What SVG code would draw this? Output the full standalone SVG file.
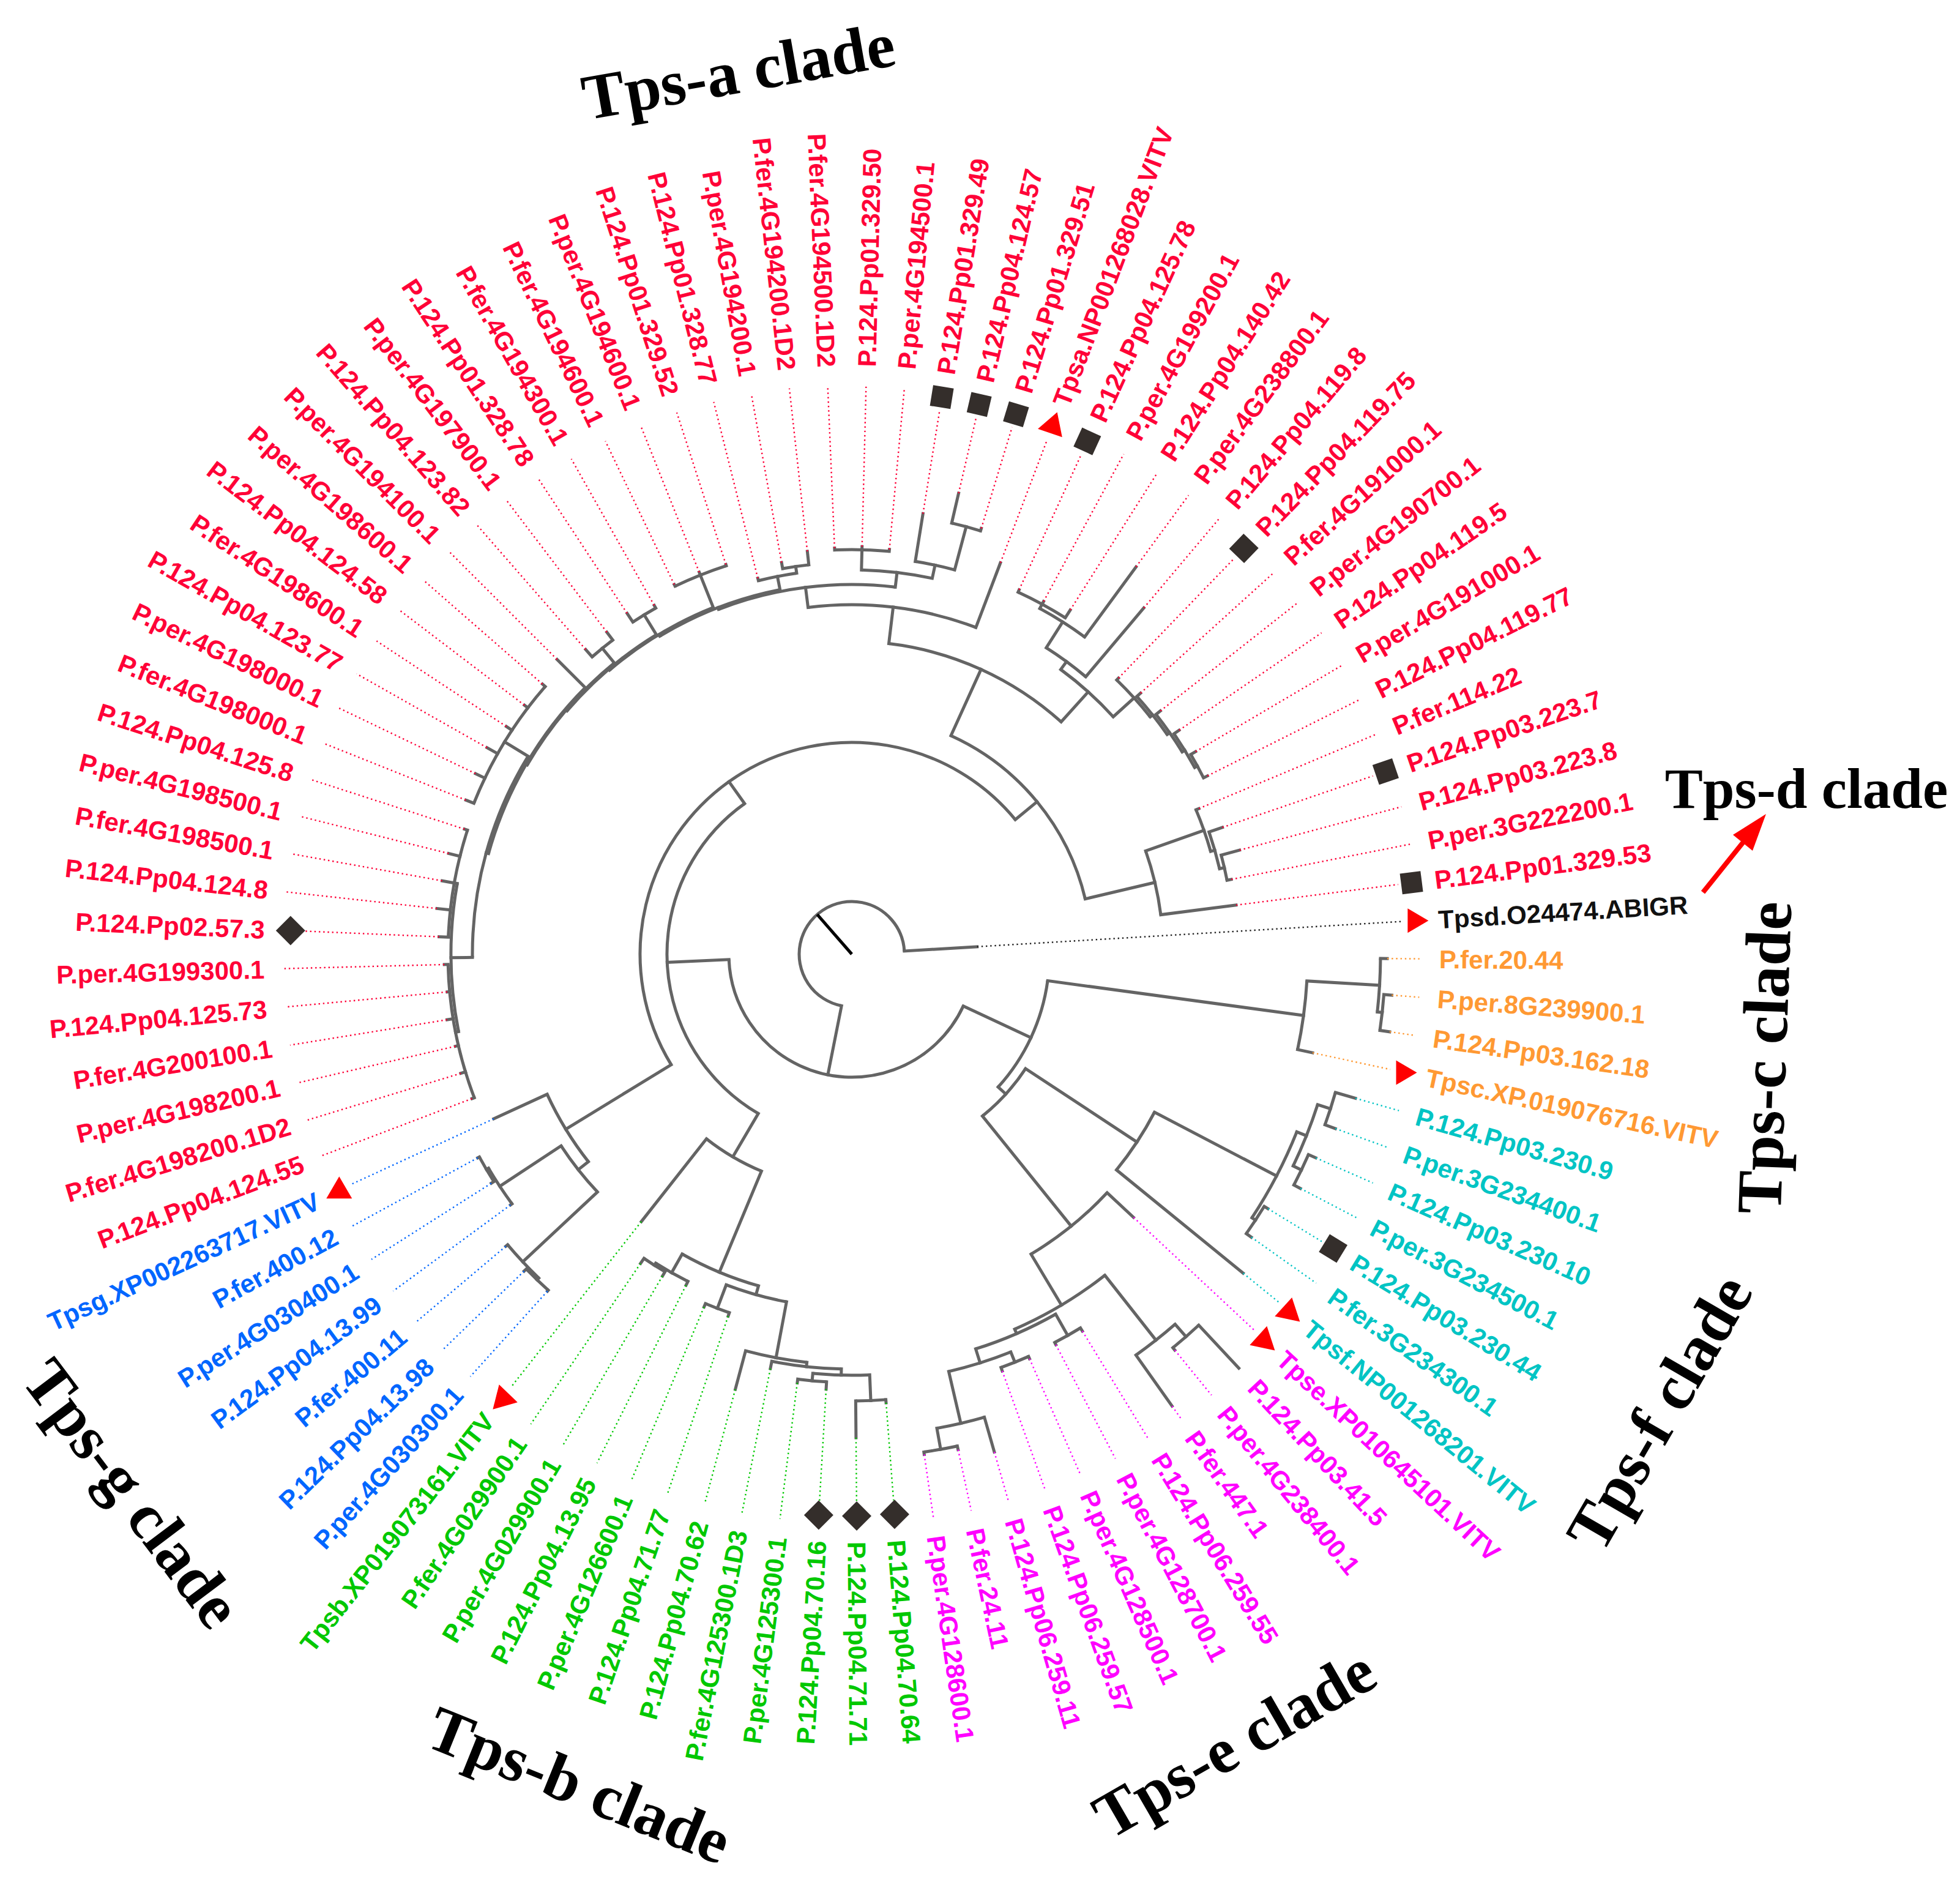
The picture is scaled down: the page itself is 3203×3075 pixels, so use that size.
<svg xmlns="http://www.w3.org/2000/svg" width="3203" height="3075" viewBox="0 0 3203 3075">
<style>
.br line{stroke:#646464;stroke-width:5;stroke-linecap:square}
.br circle{fill:none;stroke:#646464;stroke-width:5}
.ld line{stroke-width:2.4;stroke-dasharray:2.4 4.8}
.lb{font-family:"Liberation Sans",Arial,sans-serif;font-size:42px;font-weight:bold}
.e{text-anchor:end}
.co{fill:#ff9933}.cc{fill:#00c4c4}.cm{fill:#ff00ff}.cg{fill:#00c800}.cb{fill:#0066ff}.cr{fill:#ff0037}.ck{fill:#111}
.sq{fill:#342e2b}.tri{fill:#ff0000}
.cl{font-family:"Liberation Serif","Times New Roman",serif;font-weight:bold;font-size:105px;fill:#000;text-anchor:middle}
</style>
<rect width="3203" height="3075" fill="#fff"/>
<g transform="translate(1392 1559)">
<g id="connectors">
<g id="tree" class="br">
<circle r="86" transform="rotate(101.23)" stroke-dasharray="383.3 9999"/>
<circle r="201" transform="rotate(24.98)" stroke-dasharray="535 9999"/>
<circle r="323" transform="rotate(7.73)" stroke-dasharray="194.5 9999"/>
<circle r="745" transform="rotate(3.37)" stroke-dasharray="113.3 9999"/>
<circle r="864" transform="rotate(0.47)" stroke-dasharray="87.5 9999"/>
<circle r="872" transform="rotate(4.34)" stroke-dasharray="58.9 9999"/>
<circle r="340" transform="rotate(33.37)" stroke-dasharray="105.2 9999"/>
<circle r="558" transform="rotate(27.57)" stroke-dasharray="113.1 9999"/>
<circle r="783" transform="rotate(21.765)" stroke-dasharray="158.8 9999"/>
<circle r="800" transform="rotate(17.895)" stroke-dasharray="108.1 9999"/>
<circle r="822" transform="rotate(15.96)" stroke-dasharray="55.5 9999"/>
<circle r="815" transform="rotate(23.7)" stroke-dasharray="55 9999"/>
<circle r="790" transform="rotate(31.44)" stroke-dasharray="53.4 9999"/>
<circle r="571" transform="rotate(43.05)" stroke-dasharray="160.3 9999"/>
<circle r="668" transform="rotate(51.76)" stroke-dasharray="172.1 9999"/>
<circle r="803" transform="rotate(48.855)" stroke-dasharray="81.5 9999"/>
<circle r="830" transform="rotate(46.92)" stroke-dasharray="56.1 9999"/>
<circle r="676" transform="rotate(60.475)" stroke-dasharray="142.7 9999"/>
<circle r="716" transform="rotate(58.54)" stroke-dasharray="48.4 9999"/>
<circle r="700" transform="rotate(68.215)" stroke-dasharray="106.4 9999"/>
<circle r="718" transform="rotate(66.28)" stroke-dasharray="48.5 9999"/>
<circle r="787" transform="rotate(74.02)" stroke-dasharray="79.7 9999"/>
<circle r="822" transform="rotate(77.89)" stroke-dasharray="55.5 9999"/>
<circle r="302" transform="rotate(120.41)" stroke-dasharray="601.6 9999"/>
<circle r="384" transform="rotate(112.61)" stroke-dasharray="104.6 9999"/>
<circle r="563" transform="rotate(105.715)" stroke-dasharray="135.4 9999"/>
<circle r="598" transform="rotate(116.6)" stroke-dasharray="60.6 9999"/>
<circle r="602" transform="rotate(120.47)" stroke-dasharray="40.7 9999"/>
<circle r="578" transform="rotate(100.635)" stroke-dasharray="102.4 9999"/>
<circle r="619" transform="rotate(108.86)" stroke-dasharray="41.8 9999"/>
<circle r="671" transform="rotate(96.28)" stroke-dasharray="102 9999"/>
<circle r="678" transform="rotate(91.44)" stroke-dasharray="114.5 9999"/>
<circle r="688" transform="rotate(87.565)" stroke-dasharray="93.1 9999"/>
<circle r="730" transform="rotate(85.63)" stroke-dasharray="49.3 9999"/>
<circle r="700" transform="rotate(93.38)" stroke-dasharray="47.3 9999"/>
<circle r="346" transform="rotate(148.54)" stroke-dasharray="1038.8 9999"/>
<circle r="548" transform="rotate(141.77)" stroke-dasharray="129.5 9999"/>
<circle r="569" transform="rotate(136.93)" stroke-dasharray="96 9999"/>
<circle r="736" transform="rotate(134.025)" stroke-dasharray="74.6 9999"/>
<circle r="740" transform="rotate(132.09)" stroke-dasharray="50 9999"/>
<circle r="689" transform="rotate(143.7)" stroke-dasharray="69.8 9999"/>
<circle r="693" transform="rotate(147.57)" stroke-dasharray="46.8 9999"/>
<circle r="392" transform="rotate(294.41)" stroke-dasharray="357.7 9999"/>
<circle r="509" transform="rotate(340.64)" stroke-dasharray="107.4 9999"/>
<circle r="610" transform="rotate(337.25)" stroke-dasharray="72.1 9999"/>
<circle r="617" transform="rotate(341.12)" stroke-dasharray="62.5 9999"/>
<circle r="625" transform="rotate(344.99)" stroke-dasharray="42.2 9999"/>
<circle r="511" transform="rotate(276.8)" stroke-dasharray="314.2 9999"/>
<circle r="571" transform="rotate(262.81)" stroke-dasharray="278.9 9999"/>
<circle r="604" transform="rotate(248.865)" stroke-dasharray="294.1 9999"/>
<circle r="607" transform="rotate(238.87)" stroke-dasharray="211.8 9999"/>
<circle r="610" transform="rotate(229.52)" stroke-dasharray="199 9999"/>
<circle r="612" transform="rotate(220.51)" stroke-dasharray="192.5 9999"/>
<circle r="614" transform="rotate(210.23)" stroke-dasharray="220.4 9999"/>
<circle r="616" transform="rotate(195.47)" stroke-dasharray="317.4 9999"/>
<circle r="620" transform="rotate(179.505)" stroke-dasharray="345.6 9999"/>
<circle r="655" transform="rotate(168.86)" stroke-dasharray="243.4 9999"/>
<circle r="660" transform="rotate(159.18)" stroke-dasharray="223 9999"/>
<circle r="660" transform="rotate(182.41)" stroke-dasharray="178.3 9999"/>
<circle r="665" transform="rotate(201.76)" stroke-dasharray="224.7 9999"/>
<circle r="629" transform="rotate(255.96)" stroke-dasharray="63.7 9999"/>
<circle r="640" transform="rotate(259.83)" stroke-dasharray="43.2 9999"/>
<circle r="628" transform="rotate(271.44)" stroke-dasharray="116.6 9999"/>
<circle r="661" transform="rotate(267.57)" stroke-dasharray="89.3 9999"/>
<circle r="650" transform="rotate(279.18)" stroke-dasharray="65.9 9999"/>
<circle r="723" transform="rotate(283.05)" stroke-dasharray="48.8 9999"/>
<circle r="667" transform="rotate(244.34)" stroke-dasharray="90.2 9999"/>
<circle r="650" transform="rotate(236.6)" stroke-dasharray="43.9 9999"/>
<circle r="645" transform="rotate(228.86)" stroke-dasharray="43.6 9999"/>
<circle r="577" transform="rotate(306.28)" stroke-dasharray="115.7 9999"/>
<circle r="593" transform="rotate(302.41)" stroke-dasharray="80.1 9999"/>
<circle r="643" transform="rotate(298.54)" stroke-dasharray="86.9 9999"/>
<circle r="651" transform="rotate(294.67)" stroke-dasharray="87.9 9999"/>
<circle r="623" transform="rotate(314.02)" stroke-dasharray="81.6 9999"/>
<circle r="628" transform="rotate(317.89)" stroke-dasharray="79.6 9999"/>
<circle r="633" transform="rotate(321.76)" stroke-dasharray="74.8 9999"/>
<circle r="638" transform="rotate(325.63)" stroke-dasharray="64.7 9999"/>
<circle r="643" transform="rotate(329.5)" stroke-dasharray="43.5 9999"/>
<line x1="86" x2="201" transform="rotate(101.23)"/>
<line x1="86" x2="205" transform="rotate(356.6)"/>
<line x1="201" x2="323" transform="rotate(24.98)"/>
<line x1="201" x2="302" transform="rotate(177.475)"/>
<line x1="323" x2="745" transform="rotate(7.73)"/>
<line x1="323" x2="340" transform="rotate(42.24)"/>
<line x1="745" x2="864" transform="rotate(3.37)"/>
<line x1="745" x2="770" transform="rotate(12.08)"/>
<line x1="864" x2="875" transform="rotate(0.47)"/>
<line x1="864" x2="872" transform="rotate(6.275)"/>
<line x1="872" x2="885" transform="rotate(4.34)"/>
<line x1="872" x2="888" transform="rotate(8.21)"/>
<line x1="340" x2="558" transform="rotate(33.37)"/>
<line x1="340" x2="571" transform="rotate(51.1)"/>
<line x1="558" x2="783" transform="rotate(27.57)"/>
<line x1="558" x2="825" transform="rotate(39.18)"/>
<line x1="783" x2="800" transform="rotate(21.765)"/>
<line x1="783" x2="790" transform="rotate(33.375)"/>
<line x1="800" x2="822" transform="rotate(17.895)"/>
<line x1="800" x2="815" transform="rotate(25.635)"/>
<line x1="822" x2="856" transform="rotate(15.96)"/>
<line x1="822" x2="840" transform="rotate(19.83)"/>
<line x1="815" x2="828" transform="rotate(23.7)"/>
<line x1="815" x2="827" transform="rotate(27.57)"/>
<line x1="790" x2="797" transform="rotate(31.44)"/>
<line x1="790" x2="800" transform="rotate(35.31)"/>
<line x1="571" x2="630" transform="rotate(43.05)"/>
<line x1="571" x2="668" transform="rotate(59.14)"/>
<line x1="668" x2="803" transform="rotate(51.76)"/>
<line x1="668" x2="676" transform="rotate(66.52)"/>
<line x1="803" x2="830" transform="rotate(48.855)"/>
<line x1="803" x2="905" transform="rotate(54.67)"/>
<line x1="830" x2="926" transform="rotate(46.92)"/>
<line x1="830" x2="835" transform="rotate(50.79)"/>
<line x1="676" x2="716" transform="rotate(60.475)"/>
<line x1="676" x2="700" transform="rotate(72.57)"/>
<line x1="716" x2="722" transform="rotate(58.54)"/>
<line x1="716" x2="720" transform="rotate(62.41)"/>
<line x1="700" x2="718" transform="rotate(68.215)"/>
<line x1="700" x2="787" transform="rotate(76.92)"/>
<line x1="718" x2="722" transform="rotate(66.28)"/>
<line x1="718" x2="724" transform="rotate(70.15)"/>
<line x1="787" x2="846" transform="rotate(74.02)"/>
<line x1="787" x2="822" transform="rotate(79.825)"/>
<line x1="822" x2="828" transform="rotate(77.89)"/>
<line x1="822" x2="826" transform="rotate(81.76)"/>
<line x1="302" x2="384" transform="rotate(120.41)"/>
<line x1="302" x2="346" transform="rotate(234.54)"/>
<line x1="384" x2="563" transform="rotate(112.61)"/>
<line x1="384" x2="556" transform="rotate(128.21)"/>
<line x1="563" x2="578" transform="rotate(105.715)"/>
<line x1="563" x2="598" transform="rotate(119.5)"/>
<line x1="598" x2="605" transform="rotate(116.6)"/>
<line x1="598" x2="602" transform="rotate(122.405)"/>
<line x1="602" x2="610" transform="rotate(120.47)"/>
<line x1="602" x2="612" transform="rotate(124.34)"/>
<line x1="578" x2="671" transform="rotate(100.635)"/>
<line x1="578" x2="619" transform="rotate(110.795)"/>
<line x1="619" x2="625" transform="rotate(108.86)"/>
<line x1="619" x2="625" transform="rotate(112.73)"/>
<line x1="671" x2="678" transform="rotate(96.28)"/>
<line x1="671" x2="736" transform="rotate(104.99)"/>
<line x1="678" x2="688" transform="rotate(91.44)"/>
<line x1="678" x2="690" transform="rotate(101.12)"/>
<line x1="688" x2="730" transform="rotate(87.565)"/>
<line x1="688" x2="700" transform="rotate(95.315)"/>
<line x1="730" x2="735" transform="rotate(85.63)"/>
<line x1="730" x2="790" transform="rotate(89.5)"/>
<line x1="700" x2="712" transform="rotate(93.38)"/>
<line x1="700" x2="706" transform="rotate(97.25)"/>
<line x1="346" x2="548" transform="rotate(148.54)"/>
<line x1="346" x2="392" transform="rotate(320.55)"/>
<line x1="548" x2="569" transform="rotate(141.77)"/>
<line x1="548" x2="644" transform="rotate(155.31)"/>
<line x1="569" x2="736" transform="rotate(136.93)"/>
<line x1="569" x2="689" transform="rotate(146.6)"/>
<line x1="736" x2="740" transform="rotate(134.025)"/>
<line x1="736" x2="740" transform="rotate(139.83)"/>
<line x1="740" x2="742" transform="rotate(132.09)"/>
<line x1="740" x2="745" transform="rotate(135.96)"/>
<line x1="689" x2="692" transform="rotate(143.7)"/>
<line x1="689" x2="693" transform="rotate(149.505)"/>
<line x1="693" x2="698" transform="rotate(147.57)"/>
<line x1="693" x2="696" transform="rotate(151.44)"/>
<line x1="392" x2="511" transform="rotate(294.41)"/>
<line x1="392" x2="509" transform="rotate(346.69)"/>
<line x1="509" x2="610" transform="rotate(340.64)"/>
<line x1="509" x2="633" transform="rotate(352.73)"/>
<line x1="610" x2="615" transform="rotate(337.25)"/>
<line x1="610" x2="617" transform="rotate(344.02)"/>
<line x1="617" x2="640" transform="rotate(341.12)"/>
<line x1="617" x2="625" transform="rotate(346.925)"/>
<line x1="625" x2="656" transform="rotate(344.99)"/>
<line x1="625" x2="632" transform="rotate(348.86)"/>
<line x1="511" x2="571" transform="rotate(276.8)"/>
<line x1="511" x2="577" transform="rotate(312.03)"/>
<line x1="571" x2="604" transform="rotate(262.81)"/>
<line x1="571" x2="684" transform="rotate(290.8)"/>
<line x1="604" x2="607" transform="rotate(248.865)"/>
<line x1="604" x2="628" transform="rotate(276.76)"/>
<line x1="607" x2="610" transform="rotate(238.87)"/>
<line x1="607" x2="629" transform="rotate(258.86)"/>
<line x1="610" x2="612" transform="rotate(229.52)"/>
<line x1="610" x2="667" transform="rotate(248.215)"/>
<line x1="612" x2="614" transform="rotate(220.51)"/>
<line x1="612" x2="650" transform="rotate(238.535)"/>
<line x1="614" x2="616" transform="rotate(210.23)"/>
<line x1="614" x2="645" transform="rotate(230.795)"/>
<line x1="616" x2="620" transform="rotate(195.47)"/>
<line x1="616" x2="681" transform="rotate(224.99)"/>
<line x1="620" x2="655" transform="rotate(179.505)"/>
<line x1="620" x2="665" transform="rotate(211.44)"/>
<line x1="655" x2="660" transform="rotate(168.86)"/>
<line x1="655" x2="660" transform="rotate(190.15)"/>
<line x1="660" x2="664" transform="rotate(159.18)"/>
<line x1="660" x2="668" transform="rotate(163.05)"/>
<line x1="660" x2="665" transform="rotate(166.92)"/>
<line x1="660" x2="670" transform="rotate(170.8)"/>
<line x1="660" x2="664" transform="rotate(174.67)"/>
<line x1="660" x2="666" transform="rotate(178.54)"/>
<line x1="660" x2="675" transform="rotate(182.41)"/>
<line x1="660" x2="682" transform="rotate(186.28)"/>
<line x1="660" x2="680" transform="rotate(190.15)"/>
<line x1="660" x2="679" transform="rotate(194.02)"/>
<line x1="660" x2="665" transform="rotate(197.89)"/>
<line x1="665" x2="679" transform="rotate(201.76)"/>
<line x1="665" x2="682" transform="rotate(205.63)"/>
<line x1="665" x2="685" transform="rotate(209.51)"/>
<line x1="665" x2="676" transform="rotate(213.38)"/>
<line x1="665" x2="672" transform="rotate(217.25)"/>
<line x1="665" x2="671" transform="rotate(221.12)"/>
<line x1="645" x2="661" transform="rotate(228.86)"/>
<line x1="645" x2="661" transform="rotate(232.73)"/>
<line x1="650" x2="667" transform="rotate(236.6)"/>
<line x1="650" x2="655" transform="rotate(240.47)"/>
<line x1="667" x2="670" transform="rotate(244.34)"/>
<line x1="667" x2="672" transform="rotate(248.22)"/>
<line x1="667" x2="669" transform="rotate(252.09)"/>
<line x1="629" x2="633" transform="rotate(255.96)"/>
<line x1="629" x2="640" transform="rotate(261.765)"/>
<line x1="640" x2="650" transform="rotate(259.83)"/>
<line x1="640" x2="662" transform="rotate(263.7)"/>
<line x1="628" x2="661" transform="rotate(271.44)"/>
<line x1="628" x2="650" transform="rotate(282.08)"/>
<line x1="661" x2="664" transform="rotate(267.57)"/>
<line x1="661" x2="666" transform="rotate(271.44)"/>
<line x1="661" x2="664" transform="rotate(275.31)"/>
<line x1="650" x2="729" transform="rotate(279.18)"/>
<line x1="650" x2="723" transform="rotate(284.985)"/>
<line x1="723" x2="773" transform="rotate(283.05)"/>
<line x1="723" x2="727" transform="rotate(286.92)"/>
<line x1="577" x2="593" transform="rotate(306.28)"/>
<line x1="577" x2="623" transform="rotate(317.77)"/>
<line x1="593" x2="643" transform="rotate(302.41)"/>
<line x1="593" x2="740" transform="rotate(310.15)"/>
<line x1="643" x2="651" transform="rotate(298.54)"/>
<line x1="643" x2="785" transform="rotate(306.28)"/>
<line x1="651" x2="655" transform="rotate(294.67)"/>
<line x1="651" x2="656" transform="rotate(298.54)"/>
<line x1="651" x2="666" transform="rotate(302.41)"/>
<line x1="623" x2="627" transform="rotate(314.02)"/>
<line x1="623" x2="628" transform="rotate(321.52)"/>
<line x1="628" x2="636" transform="rotate(317.89)"/>
<line x1="628" x2="633" transform="rotate(325.15)"/>
<line x1="633" x2="642" transform="rotate(321.76)"/>
<line x1="633" x2="638" transform="rotate(328.535)"/>
<line x1="638" x2="648" transform="rotate(325.63)"/>
<line x1="638" x2="643" transform="rotate(331.44)"/>
<line x1="643" x2="652" transform="rotate(329.5)"/>
<line x1="643" x2="650" transform="rotate(333.38)"/>
<line x1="0" x2="86" transform="rotate(228.9)" style="stroke:#000;stroke-linecap:butt"/>
</g>
<g id="leaders" class="ld">
<g stroke="#ff9933">
<line x1="875" x2="930" transform="rotate(0.47)"/>
<line x1="885" x2="930" transform="rotate(4.34)"/>
<line x1="888" x2="930" transform="rotate(8.21)"/>
<line x1="770" x2="900" transform="rotate(12.08)"/>
</g>
<g stroke="#00c4c4">
<line x1="856" x2="930" transform="rotate(15.96)"/>
<line x1="840" x2="930" transform="rotate(19.83)"/>
<line x1="828" x2="930" transform="rotate(23.7)"/>
<line x1="827" x2="930" transform="rotate(27.57)"/>
<line x1="797" x2="900" transform="rotate(31.44)"/>
<line x1="800" x2="930" transform="rotate(35.31)"/>
<line x1="825" x2="900" transform="rotate(39.18)"/>
</g>
<g stroke="#ff00ff">
<line x1="630" x2="900" transform="rotate(43.05)"/>
<line x1="835" x2="930" transform="rotate(50.79)"/>
<line x1="905" x2="930" transform="rotate(54.67)"/>
<line x1="722" x2="930" transform="rotate(58.54)"/>
<line x1="720" x2="930" transform="rotate(62.41)"/>
<line x1="722" x2="930" transform="rotate(66.28)"/>
<line x1="724" x2="930" transform="rotate(70.15)"/>
<line x1="846" x2="930" transform="rotate(74.02)"/>
<line x1="828" x2="930" transform="rotate(77.89)"/>
<line x1="826" x2="930" transform="rotate(81.76)"/>
</g>
<g stroke="#00c800">
<line x1="735" x2="895" transform="rotate(85.63)"/>
<line x1="790" x2="895" transform="rotate(89.5)"/>
<line x1="712" x2="895" transform="rotate(93.38)"/>
<line x1="706" x2="930" transform="rotate(97.25)"/>
<line x1="690" x2="930" transform="rotate(101.12)"/>
<line x1="736" x2="930" transform="rotate(104.99)"/>
<line x1="625" x2="930" transform="rotate(108.86)"/>
<line x1="625" x2="930" transform="rotate(112.73)"/>
<line x1="605" x2="930" transform="rotate(116.6)"/>
<line x1="610" x2="930" transform="rotate(120.47)"/>
<line x1="612" x2="930" transform="rotate(124.34)"/>
<line x1="556" x2="900" transform="rotate(128.21)"/>
</g>
<g stroke="#0066ff">
<line x1="742" x2="930" transform="rotate(132.09)"/>
<line x1="745" x2="930" transform="rotate(135.96)"/>
<line x1="740" x2="930" transform="rotate(139.83)"/>
<line x1="692" x2="930" transform="rotate(143.7)"/>
<line x1="698" x2="930" transform="rotate(147.57)"/>
<line x1="696" x2="930" transform="rotate(151.44)"/>
<line x1="644" x2="900" transform="rotate(155.31)"/>
</g>
<g stroke="#ff0037">
<line x1="664" x2="930" transform="rotate(159.18)"/>
<line x1="668" x2="930" transform="rotate(163.05)"/>
<line x1="665" x2="930" transform="rotate(166.92)"/>
<line x1="670" x2="930" transform="rotate(170.8)"/>
<line x1="664" x2="930" transform="rotate(174.67)"/>
<line x1="666" x2="930" transform="rotate(178.54)"/>
<line x1="675" x2="895" transform="rotate(182.41)"/>
<line x1="682" x2="930" transform="rotate(186.28)"/>
<line x1="680" x2="930" transform="rotate(190.15)"/>
<line x1="679" x2="930" transform="rotate(194.02)"/>
<line x1="665" x2="930" transform="rotate(197.89)"/>
<line x1="679" x2="930" transform="rotate(201.76)"/>
<line x1="682" x2="930" transform="rotate(205.63)"/>
<line x1="685" x2="930" transform="rotate(209.51)"/>
<line x1="676" x2="930" transform="rotate(213.38)"/>
<line x1="672" x2="930" transform="rotate(217.25)"/>
<line x1="671" x2="930" transform="rotate(221.12)"/>
<line x1="681" x2="930" transform="rotate(224.99)"/>
<line x1="661" x2="930" transform="rotate(228.86)"/>
<line x1="661" x2="930" transform="rotate(232.73)"/>
<line x1="667" x2="930" transform="rotate(236.6)"/>
<line x1="655" x2="930" transform="rotate(240.47)"/>
<line x1="670" x2="930" transform="rotate(244.34)"/>
<line x1="672" x2="930" transform="rotate(248.22)"/>
<line x1="669" x2="930" transform="rotate(252.09)"/>
<line x1="633" x2="930" transform="rotate(255.96)"/>
<line x1="650" x2="930" transform="rotate(259.83)"/>
<line x1="662" x2="930" transform="rotate(263.7)"/>
<line x1="664" x2="930" transform="rotate(267.57)"/>
<line x1="666" x2="930" transform="rotate(271.44)"/>
<line x1="664" x2="930" transform="rotate(275.31)"/>
<line x1="729" x2="900" transform="rotate(279.18)"/>
<line x1="773" x2="900" transform="rotate(283.05)"/>
<line x1="727" x2="900" transform="rotate(286.92)"/>
<line x1="684" x2="900" transform="rotate(290.8)"/>
<line x1="655" x2="900" transform="rotate(294.67)"/>
<line x1="656" x2="930" transform="rotate(298.54)"/>
<line x1="666" x2="930" transform="rotate(302.41)"/>
<line x1="785" x2="930" transform="rotate(306.28)"/>
<line x1="740" x2="930" transform="rotate(310.15)"/>
<line x1="627" x2="900" transform="rotate(314.02)"/>
<line x1="636" x2="930" transform="rotate(317.89)"/>
<line x1="642" x2="930" transform="rotate(321.76)"/>
<line x1="648" x2="930" transform="rotate(325.63)"/>
<line x1="652" x2="930" transform="rotate(329.5)"/>
<line x1="650" x2="930" transform="rotate(333.38)"/>
<line x1="615" x2="930" transform="rotate(337.25)"/>
<line x1="640" x2="900" transform="rotate(341.12)"/>
<line x1="656" x2="930" transform="rotate(344.99)"/>
<line x1="632" x2="930" transform="rotate(348.86)"/>
<line x1="633" x2="900" transform="rotate(352.73)"/>
</g>
<g stroke="#222">
<line x1="205" x2="900" transform="rotate(356.6)"/>
</g>
</g>
</g>
<g id="leaves" class="lb">
<g id="leaf-01"><text class="co" transform="rotate(0.47) translate(960 0)" dy=".36em">P.fer.20.44</text></g>
<g id="leaf-02"><text class="co" transform="rotate(4.34) translate(960 0)" dy=".36em">P.per.8G239900.1</text></g>
<g id="leaf-03"><text class="co" transform="rotate(8.21) translate(960 0)" dy=".36em">P.124.Pp03.162.18</text></g>
<g id="leaf-04"><path class="tri" d="M19 0L-15 20V-20Z" transform="rotate(12.08) translate(925 0) rotate(-12.08)"/><text class="co" transform="rotate(12.08) translate(960 0)" dy=".36em">Tpsc.XP.019076716.VITV</text></g>
<g id="leaf-05"><text class="cc" transform="rotate(15.96) translate(960 0)" dy=".36em">P.124.Pp03.230.9</text></g>
<g id="leaf-06"><text class="cc" transform="rotate(19.83) translate(960 0)" dy=".36em">P.per.3G234400.1</text></g>
<g id="leaf-07"><text class="cc" transform="rotate(23.7) translate(960 0)" dy=".36em">P.124.Pp03.230.10</text></g>
<g id="leaf-08"><text class="cc" transform="rotate(27.57) translate(960 0)" dy=".36em">P.per.3G234500.1</text></g>
<g id="leaf-09"><rect class="sq" x="905" y="-17" width="34" height="34" transform="rotate(31.44)"/><text class="cc" transform="rotate(31.44) translate(960 0)" dy=".36em">P.124.Pp03.230.44</text></g>
<g id="leaf-10"><text class="cc" transform="rotate(35.31) translate(960 0)" dy=".36em">P.fer.3G234300.1</text></g>
<g id="leaf-11"><path class="tri" d="M0-22L21 14H-21Z" transform="rotate(39.18) translate(922 0) rotate(-27.18)"/><text class="cc" transform="rotate(39.18) translate(960 0)" dy=".36em">Tpsf.NP001268201.VITV</text></g>
<g id="leaf-12"><path class="tri" d="M0-22L21 14H-21Z" transform="rotate(43.05) translate(922 0) rotate(-31.05)"/><text class="cm" transform="rotate(43.05) translate(960 0)" dy=".36em">Tpse.XP010645101.VITV</text></g>
<g id="leaf-13"><text class="cm" transform="rotate(46.92) translate(960 0)" dy=".36em">P.124.Pp03.41.5</text></g>
<g id="leaf-14"><text class="cm" transform="rotate(50.79) translate(960 0)" dy=".36em">P.per.4G238400.1</text></g>
<g id="leaf-15"><text class="cm" transform="rotate(54.67) translate(960 0)" dy=".36em">P.fer.447.1</text></g>
<g id="leaf-16"><text class="cm" transform="rotate(58.54) translate(960 0)" dy=".36em">P.124.Pp06.259.55</text></g>
<g id="leaf-17"><text class="cm" transform="rotate(62.41) translate(960 0)" dy=".36em">P.per.4G128700.1</text></g>
<g id="leaf-18"><text class="cm" transform="rotate(66.28) translate(960 0)" dy=".36em">P.per.4G128500.1</text></g>
<g id="leaf-19"><text class="cm" transform="rotate(70.15) translate(960 0)" dy=".36em">P.124.Pp06.259.57</text></g>
<g id="leaf-20"><text class="cm" transform="rotate(74.02) translate(960 0)" dy=".36em">P.124.Pp06.259.11</text></g>
<g id="leaf-21"><text class="cm" transform="rotate(77.89) translate(960 0)" dy=".36em">P.fer.24.11</text></g>
<g id="leaf-22"><text class="cm" transform="rotate(81.76) translate(960 0)" dy=".36em">P.per.4G128600.1</text></g>
<g id="leaf-23"><path class="sq" d="M0-24L24 0 0 24-24 0Z" transform="rotate(85.63) translate(918 0) rotate(-85.63)"/><text class="cg" transform="rotate(85.63) translate(960 0)" dy=".36em">P.124.Pp04.70.64</text></g>
<g id="leaf-24"><path class="sq" d="M0-24L24 0 0 24-24 0Z" transform="rotate(89.5) translate(918 0) rotate(-89.5)"/><text class="cg" transform="rotate(89.5) translate(960 0)" dy=".36em">P.124.Pp04.71.71</text></g>
<g id="leaf-25"><path class="sq" d="M0-24L24 0 0 24-24 0Z" transform="rotate(93.38) translate(918 0) rotate(-93.38)"/><text class="cg e" transform="rotate(93.38) translate(960 0) rotate(180)" dy=".36em">P.124.Pp04.70.16</text></g>
<g id="leaf-26"><text class="cg e" transform="rotate(97.25) translate(960 0) rotate(180)" dy=".36em">P.per.4G125300.1</text></g>
<g id="leaf-27"><text class="cg e" transform="rotate(101.12) translate(960 0) rotate(180)" dy=".36em">P.fer.4G125300.1D3</text></g>
<g id="leaf-28"><text class="cg e" transform="rotate(104.99) translate(960 0) rotate(180)" dy=".36em">P.124.Pp04.70.62</text></g>
<g id="leaf-29"><text class="cg e" transform="rotate(108.86) translate(960 0) rotate(180)" dy=".36em">P.124.Pp04.71.77</text></g>
<g id="leaf-30"><text class="cg e" transform="rotate(112.73) translate(960 0) rotate(180)" dy=".36em">P.per.4G126600.1</text></g>
<g id="leaf-31"><text class="cg e" transform="rotate(116.6) translate(960 0) rotate(180)" dy=".36em">P.124.Pp04.13.95</text></g>
<g id="leaf-32"><text class="cg e" transform="rotate(120.47) translate(960 0) rotate(180)" dy=".36em">P.per.4G029900.1</text></g>
<g id="leaf-33"><text class="cg e" transform="rotate(124.34) translate(960 0) rotate(180)" dy=".36em">P.fer.4G029900.1</text></g>
<g id="leaf-34"><path class="tri" d="M0-22L21 14H-21Z" transform="rotate(128.21) translate(922 0) rotate(-144.21)"/><text class="cg e" transform="rotate(128.21) translate(960 0) rotate(180)" dy=".36em">Tpsb.XP019073161.VITV</text></g>
<g id="leaf-35"><text class="cb e" transform="rotate(132.09) translate(960 0) rotate(180)" dy=".36em">P.per.4G030300.1</text></g>
<g id="leaf-36"><text class="cb e" transform="rotate(135.96) translate(960 0) rotate(180)" dy=".36em">P.124.Pp04.13.98</text></g>
<g id="leaf-37"><text class="cb e" transform="rotate(139.83) translate(960 0) rotate(180)" dy=".36em">P.fer.400.11</text></g>
<g id="leaf-38"><text class="cb e" transform="rotate(143.7) translate(960 0) rotate(180)" dy=".36em">P.124.Pp04.13.99</text></g>
<g id="leaf-39"><text class="cb e" transform="rotate(147.57) translate(960 0) rotate(180)" dy=".36em">P.per.4G030400.1</text></g>
<g id="leaf-40"><text class="cb e" transform="rotate(151.44) translate(960 0) rotate(180)" dy=".36em">P.fer.400.12</text></g>
<g id="leaf-41"><path class="tri" d="M0-22L21 14H-21Z" transform="rotate(155.31) translate(922 0) rotate(-155.31)"/><text class="cb e" transform="rotate(155.31) translate(960 0) rotate(180)" dy=".36em">Tpsg.XP002263717.VITV</text></g>
<g id="leaf-42"><text class="cr e" transform="rotate(159.18) translate(960 0) rotate(180)" dy=".36em">P.124.Pp04.124.55</text></g>
<g id="leaf-43"><text class="cr e" transform="rotate(163.05) translate(960 0) rotate(180)" dy=".36em">P.fer.4G198200.1D2</text></g>
<g id="leaf-44"><text class="cr e" transform="rotate(166.92) translate(960 0) rotate(180)" dy=".36em">P.per.4G198200.1</text></g>
<g id="leaf-45"><text class="cr e" transform="rotate(170.8) translate(960 0) rotate(180)" dy=".36em">P.fer.4G200100.1</text></g>
<g id="leaf-46"><text class="cr e" transform="rotate(174.67) translate(960 0) rotate(180)" dy=".36em">P.124.Pp04.125.73</text></g>
<g id="leaf-47"><text class="cr e" transform="rotate(178.54) translate(960 0) rotate(180)" dy=".36em">P.per.4G199300.1</text></g>
<g id="leaf-48"><path class="sq" d="M0-24L24 0 0 24-24 0Z" transform="rotate(182.41) translate(918 0) rotate(-182.41)"/><text class="cr e" transform="rotate(182.41) translate(960 0) rotate(180)" dy=".36em">P.124.Pp02.57.3</text></g>
<g id="leaf-49"><text class="cr e" transform="rotate(186.28) translate(960 0) rotate(180)" dy=".36em">P.124.Pp04.124.8</text></g>
<g id="leaf-50"><text class="cr e" transform="rotate(190.15) translate(960 0) rotate(180)" dy=".36em">P.fer.4G198500.1</text></g>
<g id="leaf-51"><text class="cr e" transform="rotate(194.02) translate(960 0) rotate(180)" dy=".36em">P.per.4G198500.1</text></g>
<g id="leaf-52"><text class="cr e" transform="rotate(197.89) translate(960 0) rotate(180)" dy=".36em">P.124.Pp04.125.8</text></g>
<g id="leaf-53"><text class="cr e" transform="rotate(201.76) translate(960 0) rotate(180)" dy=".36em">P.fer.4G198000.1</text></g>
<g id="leaf-54"><text class="cr e" transform="rotate(205.63) translate(960 0) rotate(180)" dy=".36em">P.per.4G198000.1</text></g>
<g id="leaf-55"><text class="cr e" transform="rotate(209.51) translate(960 0) rotate(180)" dy=".36em">P.124.Pp04.123.77</text></g>
<g id="leaf-56"><text class="cr e" transform="rotate(213.38) translate(960 0) rotate(180)" dy=".36em">P.fer.4G198600.1</text></g>
<g id="leaf-57"><text class="cr e" transform="rotate(217.25) translate(960 0) rotate(180)" dy=".36em">P.124.Pp04.124.58</text></g>
<g id="leaf-58"><text class="cr e" transform="rotate(221.12) translate(960 0) rotate(180)" dy=".36em">P.per.4G198600.1</text></g>
<g id="leaf-59"><text class="cr e" transform="rotate(224.99) translate(960 0) rotate(180)" dy=".36em">P.per.4G194100.1</text></g>
<g id="leaf-60"><text class="cr e" transform="rotate(228.86) translate(960 0) rotate(180)" dy=".36em">P.124.Pp04.123.82</text></g>
<g id="leaf-61"><text class="cr e" transform="rotate(232.73) translate(960 0) rotate(180)" dy=".36em">P.per.4G197900.1</text></g>
<g id="leaf-62"><text class="cr e" transform="rotate(236.6) translate(960 0) rotate(180)" dy=".36em">P.124.Pp01.328.78</text></g>
<g id="leaf-63"><text class="cr e" transform="rotate(240.47) translate(960 0) rotate(180)" dy=".36em">P.fer.4G194300.1</text></g>
<g id="leaf-64"><text class="cr e" transform="rotate(244.34) translate(960 0) rotate(180)" dy=".36em">P.fer.4G194600.1</text></g>
<g id="leaf-65"><text class="cr e" transform="rotate(248.22) translate(960 0) rotate(180)" dy=".36em">P.per.4G194600.1</text></g>
<g id="leaf-66"><text class="cr e" transform="rotate(252.09) translate(960 0) rotate(180)" dy=".36em">P.124.Pp01.329.52</text></g>
<g id="leaf-67"><text class="cr e" transform="rotate(255.96) translate(960 0) rotate(180)" dy=".36em">P.124.Pp01.328.77</text></g>
<g id="leaf-68"><text class="cr e" transform="rotate(259.83) translate(960 0) rotate(180)" dy=".36em">P.per.4G194200.1</text></g>
<g id="leaf-69"><text class="cr e" transform="rotate(263.7) translate(960 0) rotate(180)" dy=".36em">P.fer.4G194200.1D2</text></g>
<g id="leaf-70"><text class="cr e" transform="rotate(267.57) translate(960 0) rotate(180)" dy=".36em">P.fer.4G194500.1D2</text></g>
<g id="leaf-71"><text class="cr" transform="rotate(271.44) translate(960 0)" dy=".36em">P.124.Pp01.329.50</text></g>
<g id="leaf-72"><text class="cr" transform="rotate(275.31) translate(960 0)" dy=".36em">P.per.4G194500.1</text></g>
<g id="leaf-73"><rect class="sq" x="905" y="-17" width="34" height="34" transform="rotate(279.18)"/><text class="cr" transform="rotate(279.18) translate(960 0)" dy=".36em">P.124.Pp01.329.49</text></g>
<g id="leaf-74"><rect class="sq" x="905" y="-17" width="34" height="34" transform="rotate(283.05)"/><text class="cr" transform="rotate(283.05) translate(960 0)" dy=".36em">P.124.Pp04.124.57</text></g>
<g id="leaf-75"><rect class="sq" x="905" y="-17" width="34" height="34" transform="rotate(286.92)"/><text class="cr" transform="rotate(286.92) translate(960 0)" dy=".36em">P.124.Pp01.329.51</text></g>
<g id="leaf-76"><path class="tri" d="M0-22L21 14H-21Z" transform="rotate(290.8) translate(925 0) rotate(-271.8)"/><text class="cr" transform="rotate(290.8) translate(960 0)" dy=".36em">Tpsa.NP001268028.VITV</text></g>
<g id="leaf-77"><rect class="sq" x="905" y="-17" width="34" height="34" transform="rotate(294.67)"/><text class="cr" transform="rotate(294.67) translate(960 0)" dy=".36em">P.124.Pp04.125.78</text></g>
<g id="leaf-78"><text class="cr" transform="rotate(298.54) translate(960 0)" dy=".36em">P.per.4G199200.1</text></g>
<g id="leaf-79"><text class="cr" transform="rotate(302.41) translate(960 0)" dy=".36em">P.124.Pp04.140.42</text></g>
<g id="leaf-80"><text class="cr" transform="rotate(306.28) translate(960 0)" dy=".36em">P.per.4G238800.1</text></g>
<g id="leaf-81"><text class="cr" transform="rotate(310.15) translate(960 0)" dy=".36em">P.124.Pp04.119.8</text></g>
<g id="leaf-82"><rect class="sq" x="905" y="-17" width="34" height="34" transform="rotate(314.02)"/><text class="cr" transform="rotate(314.02) translate(960 0)" dy=".36em">P.124.Pp04.119.75</text></g>
<g id="leaf-83"><text class="cr" transform="rotate(317.89) translate(960 0)" dy=".36em">P.fer.4G191000.1</text></g>
<g id="leaf-84"><text class="cr" transform="rotate(321.76) translate(960 0)" dy=".36em">P.per.4G190700.1</text></g>
<g id="leaf-85"><text class="cr" transform="rotate(325.63) translate(960 0)" dy=".36em">P.124.Pp04.119.5</text></g>
<g id="leaf-86"><text class="cr" transform="rotate(329.5) translate(960 0)" dy=".36em">P.per.4G191000.1</text></g>
<g id="leaf-87"><text class="cr" transform="rotate(333.38) translate(960 0)" dy=".36em">P.124.Pp04.119.77</text></g>
<g id="leaf-88"><text class="cr" transform="rotate(337.25) translate(960 0)" dy=".36em">P.fer.114.22</text></g>
<g id="leaf-89"><rect class="sq" x="905" y="-17" width="34" height="34" transform="rotate(341.12)"/><text class="cr" transform="rotate(341.12) translate(960 0)" dy=".36em">P.124.Pp03.223.7</text></g>
<g id="leaf-90"><text class="cr" transform="rotate(344.99) translate(960 0)" dy=".36em">P.124.Pp03.223.8</text></g>
<g id="leaf-91"><text class="cr" transform="rotate(348.86) translate(960 0)" dy=".36em">P.per.3G222200.1</text></g>
<g id="leaf-92"><rect class="sq" x="905" y="-17" width="34" height="34" transform="rotate(352.73)"/><text class="cr" transform="rotate(352.73) translate(960 0)" dy=".36em">P.124.Pp01.329.53</text></g>
<g id="leaf-93"><path class="tri" d="M19 0L-15 20V-20Z" transform="rotate(356.6) translate(925 0) rotate(-356.6)"/><text class="ck" transform="rotate(356.6) translate(960 0)" dy=".36em">Tpsd.O24474.ABIGR</text></g>
</g>
</g>
<g id="clade-labels" class="cl">
<text transform="translate(1207 118) rotate(-10)" dy=".32em">Tps-a clade</text>
<text transform="translate(2952 1290)" dy=".32em" style="font-size:93px">Tps-d clade</text>
<text transform="translate(2885 1728) rotate(-88)" dy=".32em">Tps-c clade</text>
<text transform="translate(2713 2309) rotate(-60)" dy=".32em">Tps-f clade</text>
<text transform="translate(2018 2850) rotate(-30)" dy=".32em">Tps-e clade</text>
<text transform="translate(946 2918) rotate(22)" dy=".32em">Tps-b clade</text>
<text transform="translate(215 2441) rotate(53)" dy=".32em">Tps-g clade</text>
</g>
<g id="tps-d-arrow">
<line x1="2783" y1="1458" x2="2852" y2="1372" stroke="#ff0000" stroke-width="8"/>
<polygon points="2886,1330 2864,1390 2832,1364" fill="#ff0000"/>
</g>
</svg>
